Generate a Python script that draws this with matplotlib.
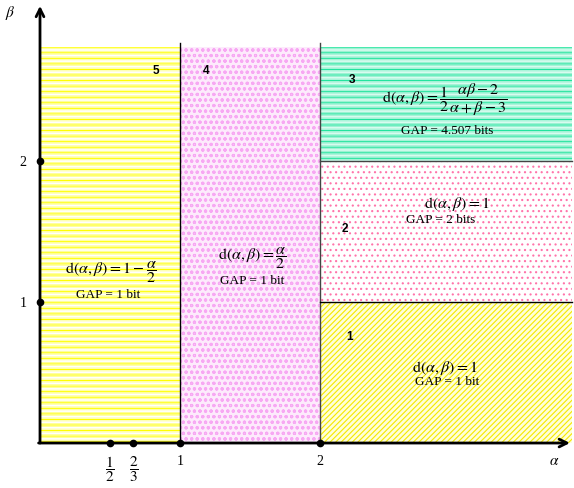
import matplotlib
matplotlib.use("Agg")
import matplotlib.pyplot as plt
from matplotlib.patches import Rectangle

plt.rcParams['mathtext.fontset'] = 'stix'
plt.rcParams['hatch.linewidth'] = 0.8

# ---- data ----
x_max = 3.80
y_top = 2.81
# regions: (x0, x1, y0, y1)
region_bounds = {
    '5': (0.0, 1.0, 0.0, y_top),
    '4': (1.0, 2.0, 0.0, y_top),
    '3': (2.0, x_max, 2.0, y_top),
    '2': (2.0, x_max, 1.0, 2.0),
    '1': (2.0, x_max, 0.0, 1.0),
}
region_number_pos = {'5': (0.83, 2.645), '4': (1.19, 2.645), '3': (2.23, 2.58),
                     '2': (2.18, 1.525), '1': (2.21, 0.759)}
formulas = {
    '5': (r'$\mathrm{d}(\alpha,\beta)=1-\dfrac{\alpha}{2}$', 'GAP = 1 bit', (0.51, 1.22), (0.49, 1.057)),
    '4': (r'$\mathrm{d}(\alpha,\beta)=\dfrac{\alpha}{2}$', 'GAP = 1 bit', (1.515, 1.32), (1.515, 1.156)),
    '3': (r'$\mathrm{d}(\alpha,\beta)=\dfrac{1}{2}\dfrac{\alpha\beta-2}{\alpha+\beta-3}$', 'GAP = 4.507 bits', (2.89, 2.44), (2.91, 2.22)),
    '2': (r'$\mathrm{d}(\alpha,\beta)=1$', 'GAP = 2 bits', (2.98, 1.70), (2.86, 1.589)),
    '1': (r'$\mathrm{d}(\alpha,\beta)=1$', 'GAP = 1 bit', (2.89, 0.539), (2.91, 0.44)),
}
x_ticks = [0.5, 2/3, 1, 2]
x_tick_labels = [r'$\dfrac{1}{2}$', r'$\dfrac{2}{3}$', '1', '2']
y_ticks = [1, 2]
y_tick_labels = ['1', '2']

fig = plt.figure(figsize=(5.74, 4.89), dpi=100)
ax = fig.add_axes([0, 0, 1, 1])
ax.set_xlim(-0.2857, 3.814)
ax.set_ylim(-0.319, 3.149)
ax.axis('off')

def rect(key, **kw):
    x0, x1, y0, y1 = region_bounds[key]
    ax.add_patch(Rectangle((x0, y0), x1 - x0, y1 - y0, linewidth=0, **kw))

# region 5: yellow horizontal lines
rect('5', facecolor='white', edgecolor='#FFFF99', hatch='------')
rect('5', facecolor='none', edgecolor='#FFFF00', hatch='---')
# region 4: pink wavy
rect('4', facecolor='#FDEAFC', edgecolor='#F7A8F3', hatch='ooo')
# region 3: teal lines
rect('3', facecolor='#D8FBEF', edgecolor='#9AF2D2', hatch='------')
rect('3', facecolor='none', edgecolor='#22E49E', hatch='---')
# region 2: pink dots
rect('2', facecolor='white', edgecolor='#FF74AA', hatch='...')
# region 1: yellow diagonal
rect('1', facecolor='#FFFFD8', edgecolor='#F5E800', hatch='//////')

# boundary lines
ax.plot([1, 1], [0, 2.84], color='black', lw=1.0)
ax.plot([2, 2], [0, 2.84], color='#444444', lw=1.0)
ax.plot([2, x_max], [2, 2], color='#444444', lw=1.0)
ax.plot([2, x_max], [1, 1], color='black', lw=1.0)

# axes arrows
ax.annotate('', xy=(3.805, 0), xytext=(-0.03, 0),
            arrowprops=dict(arrowstyle='->', lw=2, color='black', mutation_scale=14))
ax.annotate('', xy=(0, 3.12), xytext=(0, -0.02),
            arrowprops=dict(arrowstyle='->', lw=2, color='black', mutation_scale=14))

# tick dots
ax.plot(x_ticks, [0] * len(x_ticks), 'o', color='black', ms=4.5, zorder=5)
ax.plot([0] * len(y_ticks), y_ticks, 'o', color='black', ms=4.5, zorder=5)

serif = ['Liberation Serif', 'DejaVu Serif']
for xv, lab in zip(x_ticks, x_tick_labels):
    if lab.startswith('$'):
        ax.text(xv, -0.18, lab, ha='center', va='center', fontsize=11)
    else:
        ax.text(xv, -0.125, lab, ha='center', va='center', fontsize=10, family=serif)
for yv, lab in zip(y_ticks, y_tick_labels):
    ax.text(-0.12, yv, lab, ha='center', va='center', fontsize=10, family=serif)
ax.text(3.67, -0.12, r'$\alpha$', ha='center', va='center', fontsize=11)
ax.text(-0.21, 3.06, r'$\beta$', ha='center', va='center', fontsize=11)

for k, (x, y) in region_number_pos.items():
    ax.text(x, y, k, ha='center', va='center', fontsize=8.5, fontweight='bold',
            family=['Liberation Sans', 'DejaVu Sans'])

for k, (f, g, fp, gp) in formulas.items():
    ax.text(fp[0], fp[1], f, ha='center', va='center', fontsize=11.5)
    ax.text(gp[0], gp[1], g, ha='center', va='center', fontsize=9.5, family=serif)

fig.savefig('out.png', dpi=100)
